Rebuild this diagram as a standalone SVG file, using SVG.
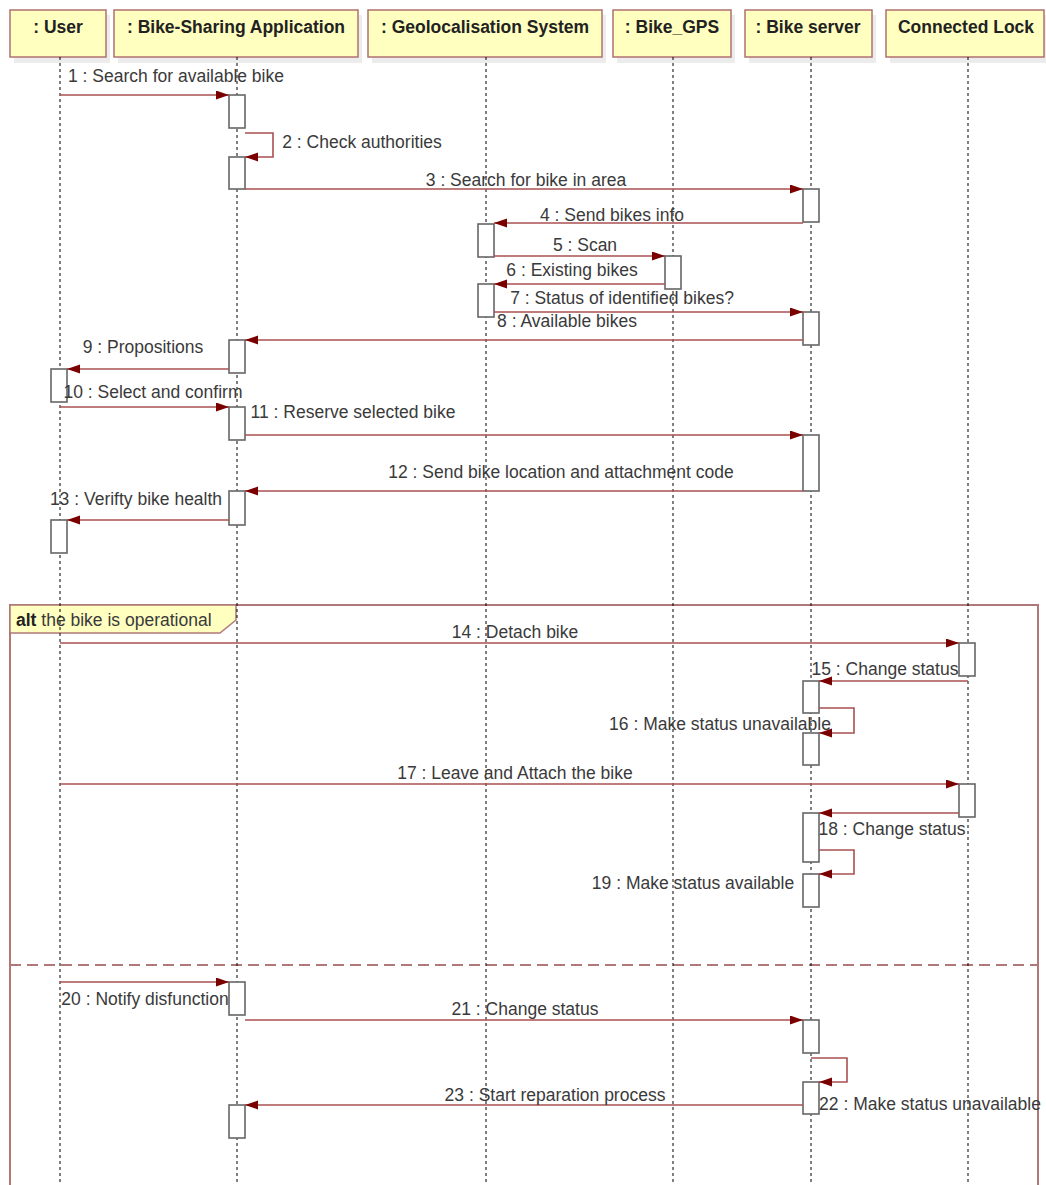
<svg xmlns="http://www.w3.org/2000/svg" width="1046" height="1185" viewBox="0 0 1046 1185">
<defs>
<marker id="arr" markerUnits="userSpaceOnUse" markerWidth="14" markerHeight="10" refX="13" refY="4.5" orient="auto">
<path d="M0,0 L13,4.5 L0,9 z" fill="#7a0000"/>
</marker>
<style>
.hdr{fill:#ffffc0;stroke:#b07070;stroke-width:1.5}
.shd{fill:#ececec}
.ht{font-family:"Liberation Sans",Arial,sans-serif;font-size:17.5px;font-weight:bold;fill:#222;text-anchor:middle}
.life{stroke:#000;stroke-width:1;stroke-dasharray:3,3;fill:none}
.act{fill:#fff;stroke:#666;stroke-width:1.6}
.msg{stroke:#a85050;stroke-width:1.6;fill:none;marker-end:url(#arr)}
.lbl{font-family:"Liberation Sans",Arial,sans-serif;font-size:17.5px;fill:#3a3a3a;text-anchor:middle}
.frame{fill:none;stroke:#b07878;stroke-width:2}
.sep{stroke:#b07878;stroke-width:2;stroke-dasharray:11,6;fill:none}
</style>
</defs>
<rect width="1046" height="1185" fill="#fff"/>

<g id="alt-frame">
<rect class="frame" x="10" y="605" width="1028" height="600"/>
<path d="M10,605 L236,605 L236,620 L220,633 L10,633 Z" fill="#ffffc0" stroke="#b07878" stroke-width="1.5"/>
<text x="16" y="626" font-family="Liberation Sans,Arial,sans-serif" font-size="17.5" fill="#3a3a3a"><tspan font-weight="bold" fill="#222">alt</tspan> the bike is operational</text>
<line class="sep" x1="10" y1="965" x2="1038" y2="965"/>
</g>

<g id="user">
<rect class="shd" x="14" y="15" width="96" height="48"/>
<rect class="hdr" x="10" y="10" width="96" height="47"/>
<text class="ht" x="58" y="33">: User</text>
<line class="life" x1="60" y1="57" x2="60" y2="1185"/>
<rect class="act" x="51" y="369" width="16" height="33"/>
<rect class="act" x="51" y="520" width="16" height="33"/>
</g>

<g id="app">
<rect class="shd" x="118" y="15" width="244" height="48"/>
<rect class="hdr" x="114" y="10" width="244" height="47"/>
<text class="ht" x="236" y="33">: Bike-Sharing Application</text>
<line class="life" x1="237" y1="57" x2="237" y2="1185"/>
<rect class="act" x="229" y="95" width="16" height="33"/>
<rect class="act" x="229" y="157" width="16" height="32"/>
<rect class="act" x="229" y="340" width="16" height="33"/>
<rect class="act" x="229" y="407" width="16" height="33"/>
<rect class="act" x="229" y="491" width="16" height="34"/>
<rect class="act" x="229" y="982" width="16" height="33"/>
<rect class="act" x="229" y="1105" width="16" height="33"/>
</g>

<g id="geo">
<rect class="shd" x="372" y="15" width="234" height="48"/>
<rect class="hdr" x="368" y="10" width="234" height="47"/>
<text class="ht" x="485" y="33">: Geolocalisation System</text>
<line class="life" x1="486" y1="57" x2="486" y2="1185"/>
<rect class="act" x="478" y="224" width="16" height="33"/>
<rect class="act" x="478" y="284" width="16" height="33"/>
</g>

<g id="gps">
<rect class="shd" x="617" y="15" width="118" height="48"/>
<rect class="hdr" x="613" y="10" width="118" height="47"/>
<text class="ht" x="672" y="33">: Bike_GPS</text>
<line class="life" x1="673" y1="57" x2="673" y2="1185"/>
<rect class="act" x="665" y="256" width="16" height="33"/>
</g>

<g id="server">
<rect class="shd" x="749" y="15" width="127" height="48"/>
<rect class="hdr" x="745" y="10" width="127" height="47"/>
<text class="ht" x="808" y="33">: Bike server</text>
<line class="life" x1="811" y1="57" x2="811" y2="1185"/>
<rect class="act" x="803" y="189" width="16" height="33"/>
<rect class="act" x="803" y="312" width="16" height="33"/>
<rect class="act" x="803" y="435" width="16" height="56"/>
<rect class="act" x="803" y="681" width="16" height="32"/>
<rect class="act" x="803" y="733" width="16" height="32"/>
<rect class="act" x="803" y="813" width="16" height="49"/>
<rect class="act" x="803" y="874" width="16" height="33"/>
<rect class="act" x="803" y="1020" width="16" height="33"/>
<rect class="act" x="803" y="1082" width="16" height="32"/>
</g>

<g id="lock">
<rect class="shd" x="890" y="15" width="158" height="48"/>
<rect class="hdr" x="886" y="10" width="158" height="47"/>
<text class="ht" x="966" y="33">Connected Lock</text>
<line class="life" x1="968" y1="57" x2="968" y2="1185"/>
<rect class="act" x="959" y="643" width="16" height="33"/>
<rect class="act" x="959" y="784" width="16" height="33"/>
</g>

<g id="connectors">
<line class="msg" x1="60" y1="95" x2="229" y2="95"/>
<text class="lbl" x="176" y="82">1 : Search for available bike</text>
<polyline class="msg" points="245,133 273,133 273,157 245,157"/>
<text class="lbl" x="362" y="148">2 : Check authorities</text>
<line class="msg" x1="245" y1="189" x2="803" y2="189"/>
<text class="lbl" x="526" y="186">3 : Search for bike in area</text>
<line class="msg" x1="803" y1="223" x2="494" y2="223"/>
<text class="lbl" x="612" y="221">4 : Send bikes info</text>
<line class="msg" x1="494" y1="256" x2="665" y2="256"/>
<text class="lbl" x="585" y="251">5 : Scan</text>
<line class="msg" x1="665" y1="284" x2="494" y2="284"/>
<text class="lbl" x="572" y="276">6 : Existing bikes</text>
<line class="msg" x1="494" y1="312" x2="803" y2="312"/>
<text class="lbl" x="622" y="304">7 : Status of identified bikes?</text>
<line class="msg" x1="803" y1="340" x2="245" y2="340"/>
<text class="lbl" x="567" y="327">8 : Available bikes</text>
<line class="msg" x1="229" y1="369" x2="67" y2="369"/>
<text class="lbl" x="143" y="353">9 : Propositions</text>
<line class="msg" x1="60" y1="407" x2="229" y2="407"/>
<text class="lbl" x="153" y="398">10 : Select and confirm</text>
<line class="msg" x1="245" y1="435" x2="803" y2="435"/>
<text class="lbl" x="353" y="418">11 : Reserve selected bike</text>
<line class="msg" x1="803" y1="491" x2="245" y2="491"/>
<text class="lbl" x="561" y="478">12 : Send bike location and attachment code</text>
<line class="msg" x1="229" y1="520" x2="67" y2="520"/>
<text class="lbl" x="136" y="505">13 : Verifty bike health</text>

<line class="msg" x1="60" y1="643" x2="959" y2="643"/>
<text class="lbl" x="515" y="638">14 : Detach bike</text>
<line class="msg" x1="968" y1="681" x2="819" y2="681"/>
<text class="lbl" x="885" y="675">15 : Change status</text>
<polyline class="msg" points="819,708 854,708 854,733 819,733"/>
<text class="lbl" x="720" y="730">16 : Make status unavailable</text>
<line class="msg" x1="60" y1="784" x2="959" y2="784"/>
<text class="lbl" x="515" y="779">17 : Leave and Attach the bike</text>
<line class="msg" x1="959" y1="813" x2="819" y2="813"/>
<text class="lbl" x="892" y="835">18 : Change status</text>
<polyline class="msg" points="819,850 854,850 854,874 819,874"/>
<text class="lbl" x="693" y="889">19 : Make status available</text>

<line class="msg" x1="60" y1="982" x2="229" y2="982"/>
<text class="lbl" x="145" y="1005">20 : Notify disfunction</text>
<line class="msg" x1="245" y1="1020" x2="803" y2="1020"/>
<text class="lbl" x="525" y="1015">21 : Change status</text>
<polyline class="msg" points="811,1058 847,1058 847,1082 819,1082"/>
<text class="lbl" x="930" y="1110">22 : Make status unavailable</text>
<line class="msg" x1="803" y1="1105" x2="245" y2="1105"/>
<text class="lbl" x="555" y="1101">23 : Start reparation process</text>
</g>
</svg>
